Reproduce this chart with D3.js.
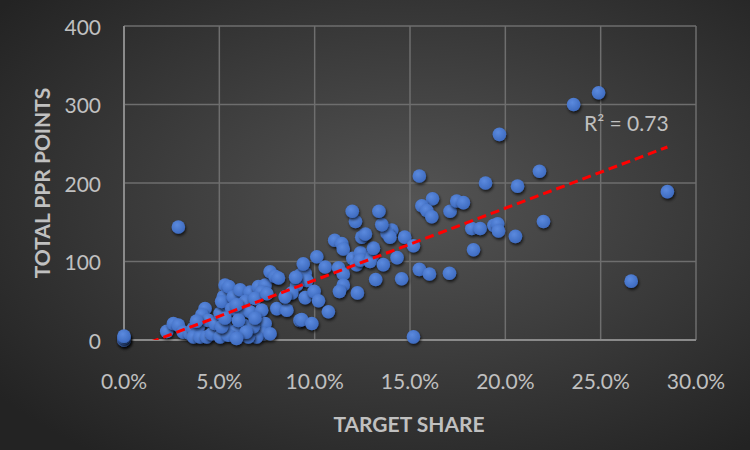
<!DOCTYPE html>
<html>
<head>
<meta charset="utf-8">
<script src="https://cdn.jsdelivr.net/npm/d3@7"></script>
<style>
	body { margin: 0; background: #2a2a2a; }
	svg { display: block; }
	.tick-label { font-family: Lato, "Open Sans", sans-serif; font-size: 21px; fill: #c0c0c0; }
	.axis-title { font-family: Lato, "Open Sans", sans-serif; font-size: 21px; font-weight: bold; fill: #c0c0c0; }
</style>
</head>
<body>
<script>
// target share (%) and total PPR points
var targetShare = [
	0, 0, 0, 0, 2.24, 2.59, 2.85, 3.11, 3.46, 3.64, 3.9, 3.64, 3.99, 4.25, 4.08, 4.42, 4.34, 4.6, 4.77, 5.04,
	5.3, 5.21, 5.04, 5.3, 5.39, 5.5, 5.12, 5.73, 6.09, 6.61, 7.05, 7.4, 7.22, 6.35, 6.87, 7.49, 8.01, 8.54, 9.23, 5.65,
	6.09, 6.61, 7.22, 7.4, 7.31, 6.96, 6.52, 6.26, 5.82, 5.47, 5.12, 6.78, 5.3, 6.87, 7.66, 7.92, 8.1, 7.66, 5.9, 6.0,
	6.4, 5.9, 9.25, 9.5, 9.58, 9.05, 8.8, 8.45, 9.5, 9.97, 10.2, 9.32, 9.85, 10.72, 9.4, 10.11, 10.55, 9.0, 11.05, 11.42,
	11.5, 11.25, 11.5, 11.5, 11.3, 12.24, 13.2, 14.56, 12.0, 12.2, 12.4, 12.4, 13.0, 12.9, 13.6, 13.08, 12.47, 12.66, 14.04, 13.8,
	13.95, 13.52, 12.14, 11.97, 13.37, 14.72, 15.18, 14.32, 15.49, 16.18, 15.62, 15.88, 16.14, 17.1, 17.45, 17.8, 18.24, 18.68, 19.4, 19.6,
	19.64, 18.33, 20.53, 22.0, 18.96, 20.64, 21.79, 19.69, 23.58, 24.89, 28.5, 26.6, 15.18, 15.49, 16.02, 17.07, 2.85, 3.8
];
var pprPoints = [
	0, 0, 3, 5, 11, 21, 19, 10, 8, 15, 17, 4, 4, 40, 32, 25, 4, 8, 21, 34,
	70, 55, 4, 17, 45, 68, 49, 55, 64, 61, 68, 70, 61, 49, 53, 59, 40, 38, 25, 40,
	34, 36, 38, 21, 8, 4, 4, 19, 11, 6, 17, 17, 28, 28, 87, 81, 79, 8, 45, 25,
	10, 2, 83, 85, 76, 70, 60, 55, 54, 62, 50, 26, 21, 36, 97, 106, 93, 80, 127, 123,
	116, 92, 84, 70, 62, 60, 77, 78, 104, 96, 111, 102, 106, 100, 96, 117, 131, 135, 140, 136,
	131, 147, 151, 164, 164, 131, 120, 105, 209, 180, 171, 165, 157, 164, 177, 175, 142, 142, 146, 148,
	139, 115, 132, 151, 200, 196, 215, 262, 300, 315, 189, 75, 4, 90, 84, 85, 144, 24
];
var xTicks = [0, 5, 10, 15, 20, 25, 30];
var yTicks = [0, 100, 200, 300, 400];
// linear trendline as shown on the chart
var trendIntercept = -15.5;
var trendSlope = 9.17;
var trendLabel = 'R\u00b2 = 0.73';

var width = 750, height = 450;
var plotLeft = 124, plotRight = 696, plotTop = 26, plotBottom = 340;

var svg = d3.select('body').append('svg')
	.attr('width', width)
	.attr('height', height);

var defs = svg.append('defs');

var bg = defs.append('radialGradient')
	.attr('id', 'bg')
	.attr('cx', '55%').attr('cy', '45%').attr('r', '70%');
bg.append('stop').attr('offset', '0%').attr('stop-color', '#545454');
bg.append('stop').attr('offset', '100%').attr('stop-color', '#232323');

var dot = defs.append('radialGradient')
	.attr('id', 'dot')
	.attr('cx', '40%').attr('cy', '35%').attr('r', '65%');
dot.append('stop').attr('offset', '0%').attr('stop-color', '#5b8ade');
dot.append('stop').attr('offset', '100%').attr('stop-color', '#3e6bc0');

var shadow = defs.append('filter')
	.attr('id', 'shadow')
	.attr('x', '-50%').attr('y', '-50%').attr('width', '200%').attr('height', '200%');
shadow.append('feDropShadow')
	.attr('dx', 1).attr('dy', 2).attr('stdDeviation', 1.6)
	.attr('flood-color', '#000').attr('flood-opacity', 0.7);

defs.append('clipPath').attr('id', 'plot')
	.append('rect')
	.attr('x', plotLeft).attr('y', plotTop)
	.attr('width', plotRight - plotLeft).attr('height', plotBottom - plotTop);

svg.append('rect')
	.attr('width', width).attr('height', height)
	.attr('fill', 'url(#bg)');

var xScale = d3.scaleLinear().domain([0, 30]).range([plotLeft, plotRight]);
var yScale = d3.scaleLinear().domain([0, 400]).range([plotBottom, plotTop]);

// grid
svg.append('g').selectAll('line')
	.data(yTicks.slice(1))
	.enter().append('line')
	.attr('x1', plotLeft).attr('x2', plotRight)
	.attr('y1', function(d) { return yScale(d); })
	.attr('y2', function(d) { return yScale(d); })
	.attr('stroke', '#6e6e6e').attr('stroke-width', 1.5);

svg.append('g').selectAll('line')
	.data(xTicks.slice(1))
	.enter().append('line')
	.attr('x1', function(d) { return xScale(d); })
	.attr('x2', function(d) { return xScale(d); })
	.attr('y1', plotTop).attr('y2', plotBottom)
	.attr('stroke', '#6e6e6e').attr('stroke-width', 1.5);

// axis lines
svg.append('line')
	.attr('x1', plotLeft).attr('x2', plotLeft).attr('y1', plotTop).attr('y2', plotBottom)
	.attr('stroke', '#8a8a8a').attr('stroke-width', 2);
svg.append('line')
	.attr('x1', plotLeft).attr('x2', plotRight).attr('y1', plotBottom).attr('y2', plotBottom)
	.attr('stroke', '#8a8a8a').attr('stroke-width', 2);

// tick labels
svg.append('g').selectAll('text')
	.data(yTicks)
	.enter().append('text')
	.attr('class', 'tick-label')
	.attr('text-anchor', 'end')
	.attr('dominant-baseline', 'central')
	.attr('x', 101)
	.attr('y', function(d) { return yScale(d); })
	.text(function(d) { return d; });

svg.append('g').selectAll('text')
	.data(xTicks)
	.enter().append('text')
	.attr('class', 'tick-label')
	.attr('text-anchor', 'middle')
	.attr('x', function(d) { return xScale(d); })
	.attr('y', 389)
	.text(function(d) { return d3.format('.1f')(d) + '%'; });

// axis titles
svg.append('text')
	.attr('class', 'axis-title')
	.attr('text-anchor', 'middle')
	.attr('x', 409).attr('y', 432)
	.text('TARGET SHARE');

svg.append('text')
	.attr('class', 'axis-title')
	.attr('text-anchor', 'middle')
	.attr('transform', 'translate(50,183) rotate(-90)')
	.text('TOTAL PPR POINTS');

// points
svg.append('g').selectAll('circle')
	.data(d3.range(targetShare.length))
	.enter().append('circle')
	.attr('cx', function(i) { return xScale(targetShare[i]); })
	.attr('cy', function(i) { return yScale(pprPoints[i]); })
	.attr('r', 6.8)
	.attr('fill', 'url(#dot)')
	.attr('filter', 'url(#shadow)');

// trendline
var xMax = d3.max(targetShare);
var line = d3.line()
	.x(function(d) { return xScale(d); })
	.y(function(d) { return yScale(trendIntercept + trendSlope * d); });

svg.append('path')
	.datum([0, xMax])
	.attr('clip-path', 'url(#plot)')
	.attr('d', line)
	.attr('fill', 'none')
	.attr('stroke', '#ff0000')
	.attr('stroke-width', 3)
	.attr('stroke-dasharray', '9,5');

svg.append('text')
	.attr('class', 'tick-label')
	.attr('x', 584).attr('y', 131)
	.text(trendLabel);
</script>
</body>
</html>
